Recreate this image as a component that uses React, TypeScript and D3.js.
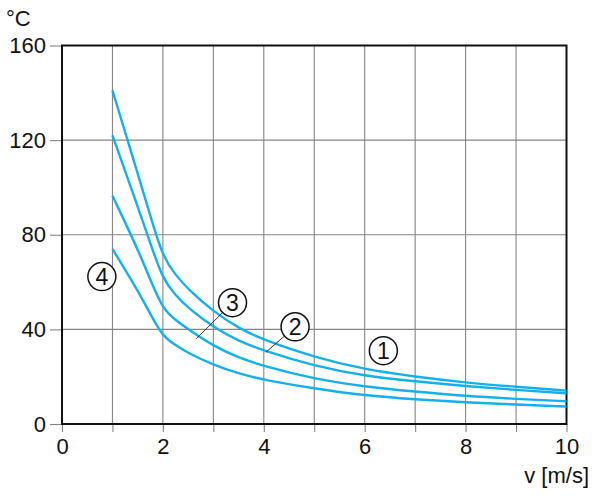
import React, { useEffect, useRef } from "react";
import * as d3 from "d3";

// air velocity v [m/s]
const velocity = [1, 1.5, 1.75, 2, 2.25, 2.5, 3, 3.5, 4, 5, 6, 7, 8, 9, 10];
// temperature rise °C for each curve
const curve1 = [141, 106, 88, 70.5, 63, 57, 47.5, 40.5, 35.5, 28.3, 23, 20, 17.5, 15.7, 14.1];
const curve2 = [122, 92, 76.5, 61, 54.5, 49, 41, 35, 31, 24.5, 20.3, 18, 16, 14.4, 13];
const curve3 = [96.5, 74, 61, 48.5, 44, 40, 33, 28, 24.5, 19, 15.8, 13.7, 11.8, 10.6, 9.6];
const curve4 = [74, 56.5, 46.5, 37, 33.3, 30, 25, 21.3, 18.6, 15, 12, 10.4, 9.1, 8.2, 7.4];
const series = [curve1, curve2, curve3, curve4];

const xTicks = [0, 1, 2, 3, 4, 5, 6, 7, 8, 9, 10];
const yTicks = [0, 40, 80, 120, 160];

// circled curve numbers: [label, x, y, leader end x, leader end y]
const markers: [string, number, number, number | null, number | null][] = [
  ["1", 6.37, 31, null, null],
  ["2", 4.62, 41.1, 4.04, 30.3],
  ["3", 3.38, 51.3, 2.66, 36],
  ["4", 0.79, 62.3, null, null],
];

const W = 600;
const H = 498;
const font = "'Liberation Sans Narrow', 'Liberation Sans', Arial, sans-serif";

const App = () => {
  const ref = useRef<SVGSVGElement>(null);

  useEffect(() => {
    const x = d3.scaleLinear([0, 10], [62, 566.5]);
    const y = d3.scaleLinear([0, 160], [424, 45.5]);
    const svg = d3.select(ref.current);
    svg.selectAll("*").remove();

    // grid
    svg
      .append("g")
      .selectAll("line")
      .data(xTicks.slice(1, -1))
      .join("line")
      .attr("x1", (d) => x(d))
      .attr("x2", (d) => x(d))
      .attr("y1", y(160))
      .attr("y2", y(0))
      .attr("stroke", "#858585")
      .attr("stroke-width", 1.1);
    svg
      .append("g")
      .selectAll("line")
      .data(yTicks.slice(1, -1))
      .join("line")
      .attr("x1", x(0))
      .attr("x2", x(10))
      .attr("y1", (d) => y(d))
      .attr("y2", (d) => y(d))
      .attr("stroke", "#858585")
      .attr("stroke-width", 1.1);

    // axes
    const xAxis = d3
      .axisBottom(x)
      .tickValues(xTicks)
      .tickSize(8)
      .tickPadding(6)
      .tickFormat((d) => ((d as number) % 2 === 0 ? String(d) : ""));
    const yAxis = d3.axisLeft(y).tickValues(yTicks).tickSize(12).tickPadding(4);

    svg
      .append("g")
      .attr("transform", `translate(0,${y(0)})`)
      .call(xAxis)
      .call((g) => g.select(".domain").remove())
      .call((g) => g.selectAll(".tick line").attr("stroke", "#858585").attr("stroke-width", 1.1))
      .call((g) =>
        g.selectAll(".tick text").attr("font-size", 22).attr("font-family", font).attr("fill", "#111")
      );
    svg
      .append("g")
      .attr("transform", `translate(${x(0)},0)`)
      .call(yAxis)
      .call((g) => g.select(".domain").remove())
      .call((g) => g.selectAll(".tick line").attr("stroke", "#858585").attr("stroke-width", 1.1))
      .call((g) =>
        g.selectAll(".tick text").attr("font-size", 22).attr("font-family", font).attr("fill", "#111")
      );

    // frame
    svg
      .append("rect")
      .attr("x", x(0))
      .attr("y", y(160))
      .attr("width", x(10) - x(0))
      .attr("height", y(0) - y(160))
      .attr("fill", "none")
      .attr("stroke", "#111")
      .attr("stroke-width", 2);

    // curves
    const line = d3
      .line<number>()
      .x((d, i) => x(velocity[i]))
      .y((d) => y(d))
      .curve(d3.curveBasis);
    svg
      .append("g")
      .selectAll("path")
      .data(series)
      .join("path")
      .attr("d", (d) => line(d))
      .attr("fill", "none")
      .attr("stroke", "#13b1ec")
      .attr("stroke-width", 2.4);

    // markers
    const m = svg.append("g").selectAll("g").data(markers).join("g");
    m.filter((d) => d[3] !== null)
      .append("line")
      .attr("x1", (d) => x(d[1]))
      .attr("y1", (d) => y(d[2]))
      .attr("x2", (d) => x(d[3] as number))
      .attr("y2", (d) => y(d[4] as number))
      .attr("stroke", "#222")
      .attr("stroke-width", 0.9);
    m.append("circle")
      .attr("cx", (d) => x(d[1]))
      .attr("cy", (d) => y(d[2]))
      .attr("r", 14)
      .attr("fill", "#fff")
      .attr("stroke", "#111")
      .attr("stroke-width", 1.5);
    m.append("text")
      .attr("x", (d) => x(d[1]))
      .attr("y", (d) => y(d[2]))
      .attr("dy", "0.36em")
      .attr("text-anchor", "middle")
      .attr("font-size", 23)
      .attr("font-family", font)
      .attr("fill", "#111")
      .text((d) => d[0]);

    // axis titles
    svg
      .append("text")
      .attr("x", 6)
      .attr("y", 26)
      .attr("font-size", 22)
      .attr("font-family", font)
      .attr("fill", "#111")
      .text("°C");
    svg
      .append("text")
      .attr("x", 589)
      .attr("y", 483)
      .attr("text-anchor", "end")
      .attr("font-size", 22)
      .attr("font-family", font)
      .attr("fill", "#111")
      .text("v [m/s]");
  }, []);

  return (
    <svg
      ref={ref}
      width={W}
      height={H}
      viewBox={`0 0 ${W} ${H}`}
      style={{ position: "absolute", left: 0, top: 0, background: "#fff" }}
    />
  );
};

export default App;
